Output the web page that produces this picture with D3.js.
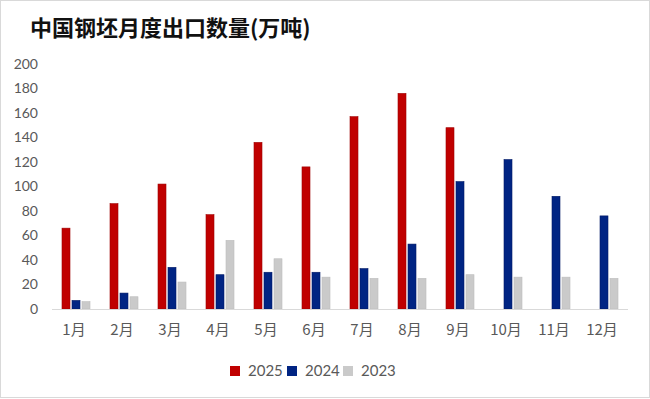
<!DOCTYPE html>
<html>
<head>
<meta charset="utf-8">
<script src="https://cdn.jsdelivr.net/npm/d3@7"></script>
<style>
  body { margin: 0; background: #fff; }
  svg { display: block; }
</style>
</head>
<body>
<svg id="chart" width="650" height="399"></svg>
<script>
// data
const months = ["1月", "2月", "3月", "4月", "5月", "6月", "7月", "8月", "9月", "10月", "11月", "12月"];
const years = ["2025", "2024", "2023"];
const v2025 = [66, 86, 102, 77, 136, 116, 157, 176, 148, null, null, null];
const v2024 = [7, 13, 34, 28, 30, 30, 33, 53, 104, 122, 92, 76];
const v2023 = [6, 10, 22, 56, 41, 26, 25, 25, 28, 26, 26, 25];
const yTicks = [0, 20, 40, 60, 80, 100, 120, 140, 160, 180, 200];

const colors = ["#c00000", "#002483", "#cacaca"];
const strokes = ["#9e0000", "#001a66", "#bdbdbd"];

const svg = d3.select("#chart");
const width = 650, height = 399;
const margin = { left: 52, right: 22, top: 64, bottom: 90 };

// outer frame
svg.append("rect")
    .attr("x", 0.5).attr("y", 0.5)
    .attr("width", width - 1).attr("height", height - 2)
    .attr("fill", "#fff")
    .attr("stroke", "#d9d9d9");

svg.append("text")
    .attr("x", 30).attr("y", 36)
    .attr("font-family", "'Noto Sans CJK SC', sans-serif")
    .attr("font-weight", "bold")
    .attr("font-size", 22)
    .attr("fill", "#111")
    .text("中国钢坯月度出口数量(万吨)");

const x = d3.scaleBand()
    .domain(months)
    .range([margin.left, width - margin.right]);

const y = d3.scaleLinear()
    .domain([0, 200])
    .range([height - margin.bottom, margin.top]);

const series = [v2025, v2024, v2023];
const barW = 8, gap = 2;

// y labels
svg.append("g")
    .attr("font-family", "Lato, 'Open Sans', sans-serif")
    .attr("font-size", 14)
    .attr("fill", "#595959")
    .selectAll("text")
    .data(yTicks)
    .enter().append("text")
    .attr("x", 38)
    .attr("y", d => y(d))
    .attr("dy", "0.35em")
    .attr("text-anchor", "end")
    .text(d => d);

// bars
series.forEach(function (vals, s)
{
    svg.append("g")
        .selectAll("rect")
        .data(months.map((m, i) => ({ m: m, v: vals[i] })).filter(d => d.v != null))
        .enter().append("rect")
        .attr("x", d => x(d.m) + x.bandwidth() / 2 - (3 * barW + 2 * gap) / 2 + s * (barW + gap))
        .attr("y", d => y(d.v))
        .attr("width", barW)
        .attr("height", d => y(0) - y(d.v))
        .attr("fill", colors[s])
        .attr("stroke", strokes[s])
        .attr("stroke-width", 0.6);
});

// baseline
svg.append("line")
    .attr("x1", margin.left).attr("x2", width - margin.right)
    .attr("y1", y(0) + 0.5).attr("y2", y(0) + 0.5)
    .attr("stroke", "#d9d9d9");

// x labels
svg.append("g")
    .attr("font-family", "'Noto Sans CJK SC', sans-serif")
    .attr("font-size", 15)
    .attr("fill", "#595959")
    .selectAll("text")
    .data(months)
    .enter().append("text")
    .attr("x", d => x(d) + x.bandwidth() / 2 - 2)
    .attr("y", 330)
    .attr("dy", "0.35em")
    .attr("text-anchor", "middle")
    .text(d => d);

// legend
const legendX = [230, 287, 343];
const legend = svg.append("g")
    .attr("font-family", "Lato, 'Open Sans', sans-serif")
    .attr("font-size", 15)
    .attr("fill", "#595959");

years.forEach(function (yr, i)
{
    legend.append("rect")
        .attr("x", legendX[i]).attr("y", 366)
        .attr("width", 10).attr("height", 10)
        .attr("fill", colors[i]);
    legend.append("text")
        .attr("x", legendX[i] + 18).attr("y", 371)
        .attr("dy", "0.35em")
        .text(yr);
});
</script>
</body>
</html>
